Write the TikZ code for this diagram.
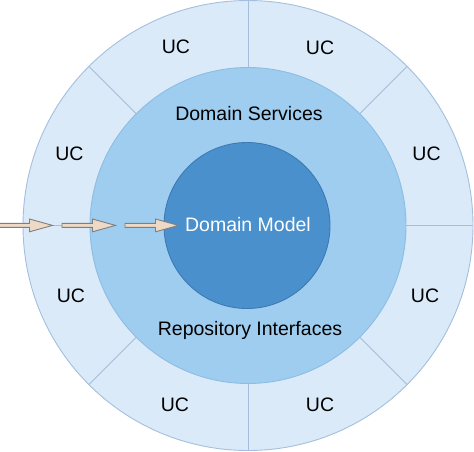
\documentclass[tikz,border=0pt]{standalone}
\usepackage{fontspec}
\setmainfont{Liberation Sans}
\definecolor{outerfill}{HTML}{DBEAF9}
\definecolor{outerline}{HTML}{A3BFDD}
\definecolor{midfill}{HTML}{9FCDEF}
\definecolor{midline}{HTML}{8DBDE3}
\definecolor{innerfill}{HTML}{4A90CD}
\definecolor{innerline}{HTML}{3D7AB4}
\definecolor{arrowfill}{HTML}{EDD9C5}
\definecolor{arrowline}{HTML}{7F7F7F}
\tikzset{
  ring/.style={circle, inner sep=0pt, outer sep=0pt, line width=0.9pt},
  divider/.style={draw=outerline, line width=0.9pt},
  lbl/.style={font=\fontsize{19.5}{23}\selectfont, anchor=base, inner sep=0pt},
  blockarrow/.style={fill=arrowfill, draw=arrowline, line width=0.9pt, line join=miter}
}
\begin{document}
\begin{tikzpicture}[x=1pt,y=-1pt]
\useasboundingbox (0,0) rectangle (474,452);
\coordinate (c) at (248,225.5);
\node[ring, fill=outerfill, draw=outerline, minimum size=450pt] (outer) at (c) {};
\begin{scope}[shift={(c)}]
  \foreach \a in {0,45,...,315}
    \draw[divider] (\a:150) -- (\a:225);
\end{scope}
\node[ring, fill=midfill, draw=midline, minimum size=316pt] (middle) at (c) {};
\node[ring, fill=innerfill, draw=innerline, minimum size=166pt] (inner) at (247,225.5) {};
% labels
\node[lbl] (ds) at (249,120) {Domain Services};
\node[lbl, text=white] (dm) at (248,231.7) {Domain Model};
\node[lbl] (ri) at (250,335) {Repository Interfaces};
\node[lbl] (uc1) at (176,54) {UC};
\node[lbl] (uc2) at (320,54.5) {UC};
\node[lbl] (uc3) at (426.5,160) {UC};
\node[lbl] (uc4) at (425,302.3) {UC};
\node[lbl] (uc5) at (320,411) {UC};
\node[lbl] (uc6) at (175,411) {UC};
\node[lbl] (uc7) at (71,302.3) {UC};
\node[lbl] (uc8) at (69.5,160) {UC};
% arrows
\foreach \s in {-1,62,125}
  \draw[blockarrow] (\s,223.4) -- ++(30.5,0) -- ++(0,-4.4) -- ++(23,6.4)
     -- ++(-23,6.4) -- ++(0,-4.4) -- ++(-30.5,0) -- cycle;
\end{tikzpicture}
\end{document}
